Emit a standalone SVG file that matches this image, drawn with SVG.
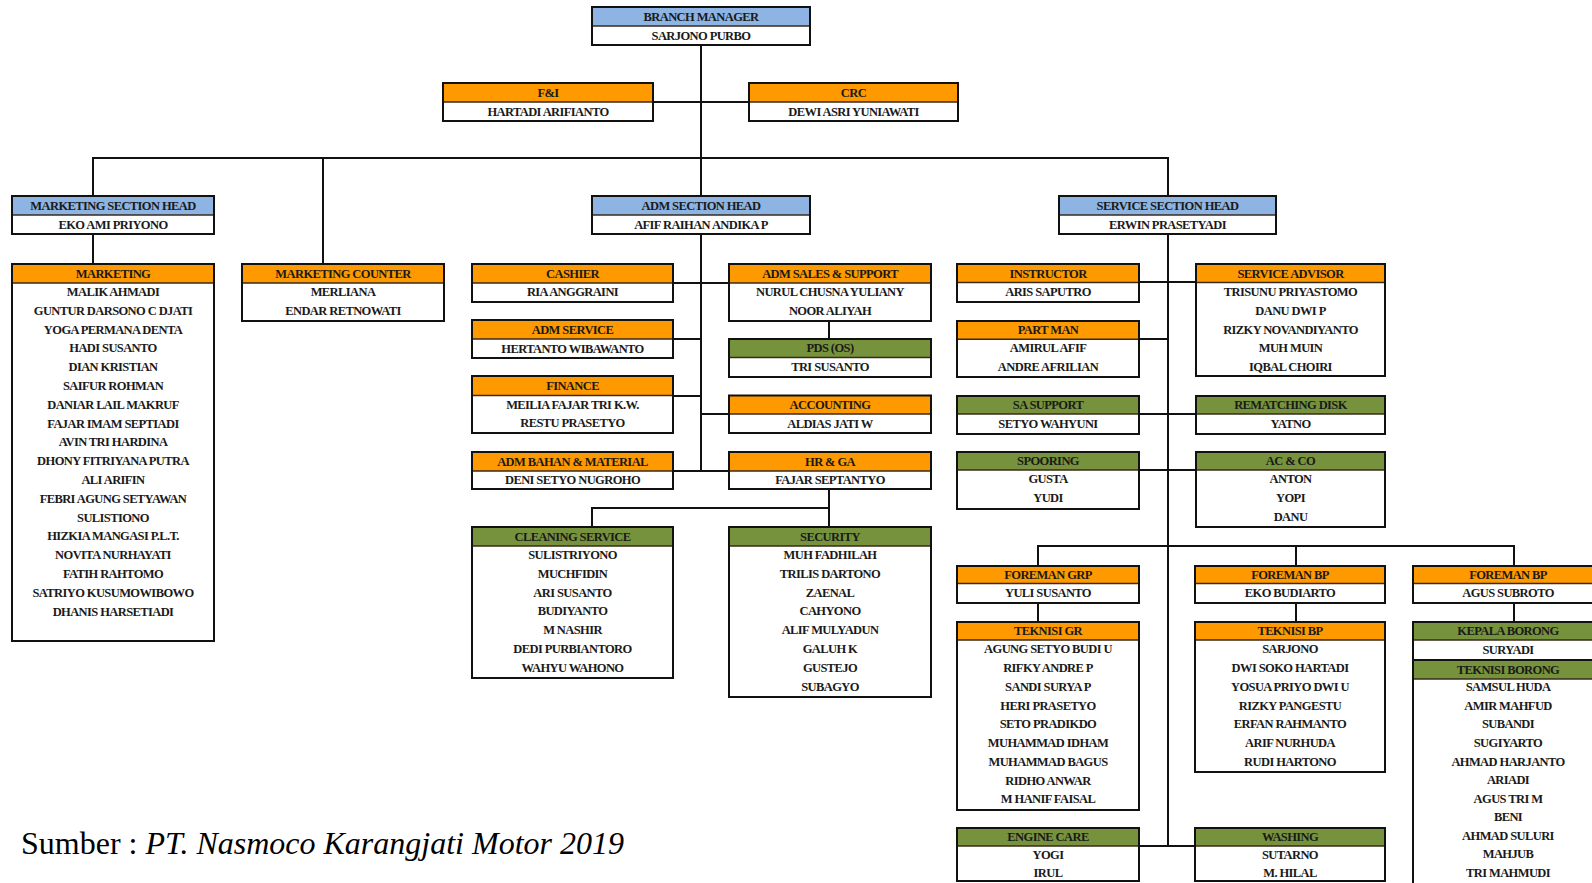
<svg xmlns="http://www.w3.org/2000/svg" width="1592" height="883" viewBox="0 0 1592 883" font-family="Liberation Serif, serif">
<style>
.bg{fill:#ffffff}
.hb{fill:#8DB4E2}
.ho{fill:#FF9900}
.hg{fill:#76923C}
.bd{fill:#ffffff}
.fr{fill:none;stroke:#111;stroke-width:2}
.dv{stroke:#3a2a1a;stroke-width:1.6}
.t{font-family:'Liberation Serif',serif;font-weight:bold;font-size:12.5px;letter-spacing:-0.6px;text-anchor:middle;fill:#1a1a1a}
.ln{stroke:#111;stroke-width:2;fill:none}
.src{font-family:'Liberation Serif',serif;font-size:32px;fill:#000}
</style>
<rect class="bg" x="0" y="0" width="1592" height="883"/>

<g id="connectors">
<line class="ln" x1="701" y1="45" x2="701" y2="196"/>
<line class="ln" x1="653" y1="102" x2="749" y2="102"/>
<line class="ln" x1="92" y1="158" x2="1169" y2="158"/>
<line class="ln" x1="93" y1="157" x2="93" y2="196"/>
<line class="ln" x1="93" y1="234" x2="93" y2="264"/>
<line class="ln" x1="323" y1="157" x2="323" y2="264"/>
<line class="ln" x1="1168" y1="157" x2="1168" y2="196"/>
<line class="ln" x1="1168" y1="234" x2="1168" y2="847"/>
<line class="ln" x1="701" y1="234" x2="701" y2="472"/>
<line class="ln" x1="673" y1="283" x2="729" y2="283"/>
<line class="ln" x1="673" y1="339" x2="702" y2="339"/>
<line class="ln" x1="673" y1="396" x2="702" y2="396"/>
<line class="ln" x1="700" y1="414" x2="729" y2="414"/>
<line class="ln" x1="673" y1="471" x2="729" y2="471"/>
<line class="ln" x1="829" y1="321" x2="829" y2="339"/>
<line class="ln" x1="829" y1="489" x2="829" y2="527"/>
<line class="ln" x1="591" y1="508" x2="830" y2="508"/>
<line class="ln" x1="592" y1="507" x2="592" y2="527"/>
<line class="ln" x1="1139" y1="282" x2="1196" y2="282"/>
<line class="ln" x1="1139" y1="339" x2="1169" y2="339"/>
<line class="ln" x1="1139" y1="414" x2="1196" y2="414"/>
<line class="ln" x1="1139" y1="470" x2="1196" y2="470"/>
<line class="ln" x1="1037" y1="546" x2="1515" y2="546"/>
<line class="ln" x1="1038" y1="545" x2="1038" y2="566"/>
<line class="ln" x1="1038" y1="603" x2="1038" y2="622"/>
<line class="ln" x1="1296" y1="545" x2="1296" y2="566"/>
<line class="ln" x1="1296" y1="603" x2="1296" y2="622"/>
<line class="ln" x1="1514" y1="545" x2="1514" y2="566"/>
<line class="ln" x1="1514" y1="603" x2="1514" y2="622"/>
<line class="ln" x1="1139" y1="846" x2="1195" y2="846"/>
</g>

<g id="n-branch-manager">
<rect class="hb" x="592" y="7" width="218" height="19"/><rect class="bd" x="592" y="26" width="218" height="19"/>
<line class="dv" x1="592" y1="26" x2="810" y2="26"/><rect class="fr" x="592" y="7" width="218" height="38"/>
<text class="t" x="701" y="20.7">BRANCH MANAGER</text><text class="t" x="701" y="39.7">SARJONO PURBO</text>
</g>

<g id="n-fi">
<rect class="ho" x="443" y="83" width="210" height="19"/><rect class="bd" x="443" y="102" width="210" height="19"/>
<line class="dv" x1="443" y1="102" x2="653" y2="102"/><rect class="fr" x="443" y="83" width="210" height="38"/>
<text class="t" x="548" y="96.7">F&amp;I</text><text class="t" x="548" y="115.7">HARTADI ARIFIANTO</text>
</g>

<g id="n-crc">
<rect class="ho" x="749" y="83" width="209" height="19"/><rect class="bd" x="749" y="102" width="209" height="19"/>
<line class="dv" x1="749" y1="102" x2="958" y2="102"/><rect class="fr" x="749" y="83" width="209" height="38"/>
<text class="t" x="853.5" y="96.7">CRC</text><text class="t" x="853.5" y="115.7">DEWI ASRI YUNIAWATI</text>
</g>

<g id="n-marketing-section-head">
<rect class="hb" x="12" y="196" width="202" height="19"/><rect class="bd" x="12" y="215" width="202" height="19"/>
<line class="dv" x1="12" y1="215" x2="214" y2="215"/><rect class="fr" x="12" y="196" width="202" height="38"/>
<text class="t" x="113" y="209.7">MARKETING SECTION HEAD</text><text class="t" x="113" y="228.7">EKO AMI PRIYONO</text>
</g>

<g id="n-adm-section-head">
<rect class="hb" x="592" y="196" width="218" height="19"/><rect class="bd" x="592" y="215" width="218" height="19"/>
<line class="dv" x1="592" y1="215" x2="810" y2="215"/><rect class="fr" x="592" y="196" width="218" height="38"/>
<text class="t" x="701" y="209.7">ADM SECTION HEAD</text><text class="t" x="701" y="228.7">AFIF RAIHAN ANDIKA P</text>
</g>

<g id="n-service-section-head">
<rect class="hb" x="1059" y="196" width="217" height="19"/><rect class="bd" x="1059" y="215" width="217" height="19"/>
<line class="dv" x1="1059" y1="215" x2="1276" y2="215"/><rect class="fr" x="1059" y="196" width="217" height="38"/>
<text class="t" x="1167.5" y="209.7">SERVICE SECTION HEAD</text><text class="t" x="1167.5" y="228.7">ERWIN PRASETYADI</text>
</g>

<g id="n-marketing">
<rect class="ho" x="12" y="264" width="202" height="19"/><rect class="bd" x="12" y="283" width="202" height="358"/>
<line class="dv" x1="12" y1="283" x2="214" y2="283"/><rect class="fr" x="12" y="264" width="202" height="377"/>
<text class="t" x="113" y="277.7">MARKETING</text>
<text class="t" x="113" y="296">MALIK AHMADI</text>
<text class="t" x="113" y="314.8">GUNTUR DARSONO C DJATI</text>
<text class="t" x="113" y="333.6">YOGA PERMANA DENTA</text>
<text class="t" x="113" y="352.4">HADI SUSANTO</text>
<text class="t" x="113" y="371.2">DIAN KRISTIAN</text>
<text class="t" x="113" y="390">SAIFUR ROHMAN</text>
<text class="t" x="113" y="408.8">DANIAR LAIL MAKRUF</text>
<text class="t" x="113" y="427.6">FAJAR IMAM SEPTIADI</text>
<text class="t" x="113" y="446.4">AVIN TRI HARDINA</text>
<text class="t" x="113" y="465.2">DHONY FITRIYANA PUTRA</text>
<text class="t" x="113" y="484">ALI ARIFIN</text>
<text class="t" x="113" y="502.8">FEBRI AGUNG SETYAWAN</text>
<text class="t" x="113" y="521.6">SULISTIONO</text>
<text class="t" x="113" y="540.4">HIZKIA MANGASI P.L.T.</text>
<text class="t" x="113" y="559.2">NOVITA NURHAYATI</text>
<text class="t" x="113" y="578">FATIH RAHTOMO</text>
<text class="t" x="113" y="596.8">SATRIYO KUSUMOWIBOWO</text>
<text class="t" x="113" y="615.6">DHANIS HARSETIADI</text>
</g>

<g id="n-marketing-counter">
<rect class="ho" x="242" y="264" width="202" height="19"/><rect class="bd" x="242" y="283" width="202" height="38"/>
<line class="dv" x1="242" y1="283" x2="444" y2="283"/><rect class="fr" x="242" y="264" width="202" height="57"/>
<text class="t" x="343" y="277.7">MARKETING COUNTER</text>
<text class="t" x="343" y="296">MERLIANA</text>
<text class="t" x="343" y="314.8">ENDAR RETNOWATI</text>
</g>

<g id="n-cashier">
<rect class="ho" x="472" y="264" width="201" height="19"/><rect class="bd" x="472" y="283" width="201" height="19"/>
<line class="dv" x1="472" y1="283" x2="673" y2="283"/><rect class="fr" x="472" y="264" width="201" height="38"/>
<text class="t" x="572.5" y="277.7">CASHIER</text><text class="t" x="572.5" y="296">RIA ANGGRAINI</text>
</g>

<g id="n-adm-sales-support">
<rect class="ho" x="729" y="264" width="202" height="19"/><rect class="bd" x="729" y="283" width="202" height="38"/>
<line class="dv" x1="729" y1="283" x2="931" y2="283"/><rect class="fr" x="729" y="264" width="202" height="57"/>
<text class="t" x="830" y="277.7">ADM SALES &amp; SUPPORT</text>
<text class="t" x="830" y="296">NURUL CHUSNA YULIANY</text>
<text class="t" x="830" y="314.8">NOOR ALIYAH</text>
</g>

<g id="n-adm-service">
<rect class="ho" x="472" y="320" width="201" height="19"/><rect class="bd" x="472" y="339" width="201" height="19"/>
<line class="dv" x1="472" y1="339" x2="673" y2="339"/><rect class="fr" x="472" y="320" width="201" height="38"/>
<text class="t" x="572.5" y="333.7">ADM SERVICE</text><text class="t" x="572.5" y="352.7">HERTANTO WIBAWANTO</text>
</g>

<g id="n-pds">
<rect class="hg" x="729" y="339" width="202" height="18.5"/><rect class="bd" x="729" y="357.5" width="202" height="19.5"/>
<line class="dv" x1="729" y1="357.5" x2="931" y2="357.5"/><rect class="fr" x="729" y="339" width="202" height="38"/>
<text class="t" x="830" y="352.4">PDS (OS)</text><text class="t" x="830" y="371.2">TRI SUSANTO</text>
</g>

<g id="n-finance">
<rect class="ho" x="472" y="376" width="201" height="19.5"/><rect class="bd" x="472" y="395.5" width="201" height="37.5"/>
<line class="dv" x1="472" y1="395.5" x2="673" y2="395.5"/><rect class="fr" x="472" y="376" width="201" height="57"/>
<text class="t" x="572.5" y="389.9">FINANCE</text>
<text class="t" x="572.5" y="408.5">MEILIA FAJAR TRI K.W.</text>
<text class="t" x="572.5" y="427.3">RESTU PRASETYO</text>
</g>

<g id="n-accounting">
<rect class="ho" x="729" y="395.5" width="202" height="18.5"/><rect class="bd" x="729" y="414" width="202" height="19"/>
<line class="dv" x1="729" y1="414" x2="931" y2="414"/><rect class="fr" x="729" y="395.5" width="202" height="37.5"/>
<text class="t" x="830" y="408.9">ACCOUNTING</text><text class="t" x="830" y="427.7">ALDIAS JATI W</text>
</g>

<g id="n-adm-bahan-material">
<rect class="ho" x="472" y="452" width="201" height="19"/><rect class="bd" x="472" y="471" width="201" height="18"/>
<line class="dv" x1="472" y1="471" x2="673" y2="471"/><rect class="fr" x="472" y="452" width="201" height="37"/>
<text class="t" x="572.5" y="465.7">ADM BAHAN &amp; MATERIAL</text><text class="t" x="572.5" y="484.2">DENI SETYO NUGROHO</text>
</g>

<g id="n-hr-ga">
<rect class="ho" x="729" y="452" width="202" height="19"/><rect class="bd" x="729" y="471" width="202" height="18"/>
<line class="dv" x1="729" y1="471" x2="931" y2="471"/><rect class="fr" x="729" y="452" width="202" height="37"/>
<text class="t" x="830" y="465.7">HR &amp; GA</text><text class="t" x="830" y="484.2">FAJAR SEPTANTYO</text>
</g>

<g id="n-cleaning-service">
<rect class="hg" x="472" y="527" width="201" height="19"/><rect class="bd" x="472" y="546" width="201" height="132"/>
<line class="dv" x1="472" y1="546" x2="673" y2="546"/><rect class="fr" x="472" y="527" width="201" height="151"/>
<text class="t" x="572.5" y="540.7">CLEANING SERVICE</text>
<text class="t" x="572.5" y="559">SULISTRIYONO</text>
<text class="t" x="572.5" y="577.8">MUCHFIDIN</text>
<text class="t" x="572.5" y="596.6">ARI SUSANTO</text>
<text class="t" x="572.5" y="615.4">BUDIYANTO</text>
<text class="t" x="572.5" y="634.2">M NASHIR</text>
<text class="t" x="572.5" y="653">DEDI PURBIANTORO</text>
<text class="t" x="572.5" y="671.8">WAHYU WAHONO</text>
</g>

<g id="n-security">
<rect class="hg" x="729" y="527" width="202" height="19"/><rect class="bd" x="729" y="546" width="202" height="151"/>
<line class="dv" x1="729" y1="546" x2="931" y2="546"/><rect class="fr" x="729" y="527" width="202" height="170"/>
<text class="t" x="830" y="540.7">SECURITY</text>
<text class="t" x="830" y="559">MUH FADHILAH</text>
<text class="t" x="830" y="577.8">TRILIS DARTONO</text>
<text class="t" x="830" y="596.6">ZAENAL</text>
<text class="t" x="830" y="615.4">CAHYONO</text>
<text class="t" x="830" y="634.2">ALIF MULYADUN</text>
<text class="t" x="830" y="653">GALUH K</text>
<text class="t" x="830" y="671.8">GUSTEJO</text>
<text class="t" x="830" y="690.6">SUBAGYO</text>
</g>

<g id="n-instructor">
<rect class="ho" x="957" y="264" width="182" height="18.5"/><rect class="bd" x="957" y="282.5" width="182" height="19.5"/>
<line class="dv" x1="957" y1="282.5" x2="1139" y2="282.5"/><rect class="fr" x="957" y="264" width="182" height="38"/>
<text class="t" x="1048" y="277.5">INSTRUCTOR</text><text class="t" x="1048" y="296">ARIS SAPUTRO</text>
</g>

<g id="n-service-advisor">
<rect class="ho" x="1196" y="264" width="189" height="18.5"/><rect class="bd" x="1196" y="282.5" width="189" height="93.5"/>
<line class="dv" x1="1196" y1="282.5" x2="1385" y2="282.5"/><rect class="fr" x="1196" y="264" width="189" height="112"/>
<text class="t" x="1290.5" y="277.5">SERVICE ADVISOR</text>
<text class="t" x="1290.5" y="296">TRISUNU PRIYASTOMO</text>
<text class="t" x="1290.5" y="314.8">DANU DWI P</text>
<text class="t" x="1290.5" y="333.6">RIZKY NOVANDIYANTO</text>
<text class="t" x="1290.5" y="352.4">MUH MUIN</text>
<text class="t" x="1290.5" y="370.6">IQBAL CHOIRI</text>
</g>

<g id="n-part-man">
<rect class="ho" x="957" y="321" width="182" height="18.3"/><rect class="bd" x="957" y="339.3" width="182" height="37.7"/>
<line class="dv" x1="957" y1="339.3" x2="1139" y2="339.3"/><rect class="fr" x="957" y="321" width="182" height="56"/>
<text class="t" x="1048" y="334.2">PART MAN</text>
<text class="t" x="1048" y="352.3">AMIRUL AFIF</text>
<text class="t" x="1048" y="371.1">ANDRE AFRILIAN</text>
</g>

<g id="n-sa-support">
<rect class="hg" x="957" y="396" width="182" height="18"/><rect class="bd" x="957" y="414" width="182" height="20"/>
<line class="dv" x1="957" y1="414" x2="1139" y2="414"/><rect class="fr" x="957" y="396" width="182" height="38"/>
<text class="t" x="1048" y="409.2">SA SUPPORT</text><text class="t" x="1048" y="428.2">SETYO WAHYUNI</text>
</g>

<g id="n-rematching-disk">
<rect class="hg" x="1196" y="396" width="189" height="18"/><rect class="bd" x="1196" y="414" width="189" height="20"/>
<line class="dv" x1="1196" y1="414" x2="1385" y2="414"/><rect class="fr" x="1196" y="396" width="189" height="38"/>
<text class="t" x="1290.5" y="409.2">REMATCHING DISK</text><text class="t" x="1290.5" y="428.2">YATNO</text>
</g>

<g id="n-spooring">
<rect class="hg" x="957" y="452" width="182" height="18"/><rect class="bd" x="957" y="470" width="182" height="39"/>
<line class="dv" x1="957" y1="470" x2="1139" y2="470"/><rect class="fr" x="957" y="452" width="182" height="57"/>
<text class="t" x="1048" y="465.2">SPOORING</text>
<text class="t" x="1048" y="483">GUSTA</text>
<text class="t" x="1048" y="501.8">YUDI</text>
</g>

<g id="n-ac-co">
<rect class="hg" x="1196" y="452" width="189" height="18"/><rect class="bd" x="1196" y="470" width="189" height="57"/>
<line class="dv" x1="1196" y1="470" x2="1385" y2="470"/><rect class="fr" x="1196" y="452" width="189" height="75"/>
<text class="t" x="1290.5" y="465.2">AC &amp; CO</text>
<text class="t" x="1290.5" y="483">ANTON</text>
<text class="t" x="1290.5" y="501.8">YOPI</text>
<text class="t" x="1290.5" y="520.6">DANU</text>
</g>

<g id="n-foreman-grp">
<rect class="ho" x="957" y="566" width="182" height="17.5"/><rect class="bd" x="957" y="583.5" width="182" height="19.5"/>
<line class="dv" x1="957" y1="583.5" x2="1139" y2="583.5"/><rect class="fr" x="957" y="566" width="182" height="37"/>
<text class="t" x="1048" y="578.9">FOREMAN GRP</text><text class="t" x="1048" y="597.2">YULI SUSANTO</text>
</g>

<g id="n-foreman-bp-1">
<rect class="ho" x="1195" y="566" width="190" height="17.5"/><rect class="bd" x="1195" y="583.5" width="190" height="19.5"/>
<line class="dv" x1="1195" y1="583.5" x2="1385" y2="583.5"/><rect class="fr" x="1195" y="566" width="190" height="37"/>
<text class="t" x="1290" y="578.9">FOREMAN BP</text><text class="t" x="1290" y="597.2">EKO BUDIARTO</text>
</g>

<g id="n-foreman-bp-2">
<rect class="ho" x="1413" y="566" width="190" height="17.5"/><rect class="bd" x="1413" y="583.5" width="190" height="19.5"/>
<line class="dv" x1="1413" y1="583.5" x2="1603" y2="583.5"/><rect class="fr" x="1413" y="566" width="190" height="37"/>
<text class="t" x="1508" y="578.9">FOREMAN BP</text><text class="t" x="1508" y="597.2">AGUS SUBROTO</text>
</g>

<g id="n-teknisi-gr">
<rect class="ho" x="957" y="622" width="182" height="18"/><rect class="bd" x="957" y="640" width="182" height="170"/>
<line class="dv" x1="957" y1="640" x2="1139" y2="640"/><rect class="fr" x="957" y="622" width="182" height="188"/>
<text class="t" x="1048" y="635.2">TEKNISI GR</text>
<text class="t" x="1048" y="653.3">AGUNG SETYO BUDI U</text>
<text class="t" x="1048" y="672">RIFKY ANDRE P</text>
<text class="t" x="1048" y="690.8">SANDI SURYA P</text>
<text class="t" x="1048" y="709.5">HERI PRASETYO</text>
<text class="t" x="1048" y="728.3">SETO PRADIKDO</text>
<text class="t" x="1048" y="747">MUHAMMAD IDHAM</text>
<text class="t" x="1048" y="765.8">MUHAMMAD BAGUS</text>
<text class="t" x="1048" y="784.5">RIDHO ANWAR</text>
<text class="t" x="1048" y="803.3">M HANIF FAISAL</text>
</g>

<g id="n-teknisi-bp">
<rect class="ho" x="1195" y="622" width="190" height="18"/><rect class="bd" x="1195" y="640" width="190" height="132"/>
<line class="dv" x1="1195" y1="640" x2="1385" y2="640"/><rect class="fr" x="1195" y="622" width="190" height="150"/>
<text class="t" x="1290" y="635.2">TEKNISI BP</text>
<text class="t" x="1290" y="653.3">SARJONO</text>
<text class="t" x="1290" y="672">DWI SOKO HARTADI</text>
<text class="t" x="1290" y="690.8">YOSUA PRIYO DWI U</text>
<text class="t" x="1290" y="709.5">RIZKY PANGESTU</text>
<text class="t" x="1290" y="728.3">ERFAN RAHMANTO</text>
<text class="t" x="1290" y="747">ARIF NURHUDA</text>
<text class="t" x="1290" y="765.8">RUDI HARTONO</text>
</g>

<g id="n-kepala-borong">
<rect class="hg" x="1413" y="622" width="190" height="18"/><rect class="bd" x="1413" y="640" width="190" height="20"/>
<rect class="hg" x="1413" y="660" width="190" height="19"/><rect class="bd" x="1413" y="679" width="190" height="220"/>
<line class="dv" x1="1413" y1="640" x2="1603" y2="640"/>
<line class="ln" x1="1413" y1="660" x2="1603" y2="660"/>
<line class="dv" x1="1413" y1="679" x2="1603" y2="679"/>
<rect class="fr" x="1413" y="622" width="190" height="277"/>
<text class="t" x="1508" y="635.2">KEPALA BORONG</text>
<text class="t" x="1508" y="654.2">SURYADI</text>
<text class="t" x="1508" y="673.7">TEKNISI BORONG</text>
<text class="t" x="1508" y="691.3">SAMSUL HUDA</text>
<text class="t" x="1508" y="709.8">AMIR MAHFUD</text>
<text class="t" x="1508" y="728.4">SUBANDI</text>
<text class="t" x="1508" y="746.9">SUGIYARTO</text>
<text class="t" x="1508" y="765.5">AHMAD HARJANTO</text>
<text class="t" x="1508" y="784">ARIADI</text>
<text class="t" x="1508" y="802.5">AGUS TRI M</text>
<text class="t" x="1508" y="821.1">BENI</text>
<text class="t" x="1508" y="839.6">AHMAD SULURI</text>
<text class="t" x="1508" y="858.2">MAHJUB</text>
<text class="t" x="1508" y="876.7">TRI MAHMUDI</text>
</g>

<g id="n-engine-care">
<rect class="hg" x="957" y="828" width="182" height="18"/><rect class="bd" x="957" y="846" width="182" height="35"/>
<line class="dv" x1="957" y1="846" x2="1139" y2="846"/><rect class="fr" x="957" y="828" width="182" height="53"/>
<text class="t" x="1048" y="841.2">ENGINE CARE</text>
<text class="t" x="1048" y="859">YOGI</text>
<text class="t" x="1048" y="877">IRUL</text>
</g>

<g id="n-washing">
<rect class="hg" x="1195" y="828" width="190" height="18"/><rect class="bd" x="1195" y="846" width="190" height="35"/>
<line class="dv" x1="1195" y1="846" x2="1385" y2="846"/><rect class="fr" x="1195" y="828" width="190" height="53"/>
<text class="t" x="1290" y="841.2">WASHING</text>
<text class="t" x="1290" y="859">SUTARNO</text>
<text class="t" x="1290" y="877">M. HILAL</text>
</g>

<g id="source">
<text class="src" x="21" y="854">Sumber : <tspan font-style="italic">PT. Nasmoco Karangjati Motor 2019</tspan></text>
</g>
</svg>
